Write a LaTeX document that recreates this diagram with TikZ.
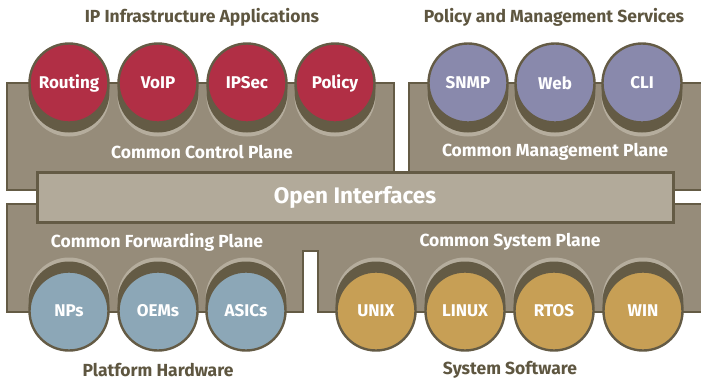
\documentclass[tikz,border=0pt]{standalone}
\usepackage{fontspec}
\setmainfont{Fira Sans}
\definecolor{plane}{HTML}{968C7A}
\definecolor{darkb}{HTML}{645B45}
\definecolor{rim}{HTML}{B5AD9D}
\definecolor{openc}{HTML}{B2AA9A}
\definecolor{redc}{HTML}{B12F45}
\definecolor{purc}{HTML}{8989AC}
\definecolor{bluc}{HTML}{8CA7B7}
\definecolor{golc}{HTML}{C79F55}
\definecolor{titlec}{HTML}{5E5640}
\tikzset{
  planebox/.style={fill=plane, draw=darkb, line width=2.2pt},
  ball/.style={circle, draw=darkb, line width=2.4pt, minimum size=79pt, inner sep=0pt,
    text=white, font=\bfseries\fontsize{17}{18}\selectfont},
  planelabel/.style={text=white, font=\bfseries\fontsize{17.5}{18}\selectfont},
  titlelabel/.style={text=titlec, font=\bfseries\fontsize{17.5}{18}\selectfont},
}
\newcommand{\topball}[4]{%
  \fill[rim] (#1,96) circle (40.5);
  \fill[darkb] (#1,92) circle (40.5);
  \node[ball, fill=#3] (#2) at (#1,83) {#4};}
\newcommand{\botball}[4]{%
  \fill[rim] (#1,298) circle (40.5);
  \fill[darkb] (#1,302) circle (40.5);
  \node[ball, fill=#3] (#2) at (#1,311) {#4};}
\begin{document}
\begin{tikzpicture}[x=1pt,y=-1pt]
\useasboundingbox (0,0) rectangle (701,381);
\begin{scope}
\clip (0,0) rectangle (701,381);
% planes
\draw[planebox] (7,83) rectangle (394,190);
\draw[planebox] (409,83) rectangle (715,190);
\draw[planebox] (7,204) -- (715,204) -- (715,312) -- (318,312) -- (318,251) -- (303,251) -- (303,312) -- (7,312) -- cycle;
\node[draw=darkb, fill=openc, line width=3pt, minimum width=636pt, minimum height=50pt, inner sep=0pt,
  text=white, font=\bfseries\fontsize{22.5}{24}\selectfont] (open) at (355,197) {Open Interfaces};
% top balls
\topball{69}{routing}{redc}{Routing}
\topball{158}{voip}{redc}{VoIP}
\topball{247}{ipsec}{redc}{IPSec}
\topball{335}{policy}{redc}{Policy}
\topball{468}{snmp}{purc}{SNMP}
\topball{555}{web}{purc}{Web}
\topball{642}{cli}{purc}{CLI}
% bottom balls
\botball{69}{nps}{bluc}{NPs}
\botball{158}{oems}{bluc}{OEMs}
\botball{246}{asics}{bluc}{ASICs}
\botball{376}{unix}{golc}{UNIX}
\botball{465}{linux}{golc}{LINUX}
\botball{554}{rtos}{golc}{RTOS}
\botball{643}{win}{golc}{WIN}
\end{scope}
% labels
\node[titlelabel] (t1) at (202,17) {IP Infrastructure Applications};
\node[titlelabel] (t2) at (554,17) {Policy and Management Services};
\node[planelabel] (ccp) at (202,152) {Common Control Plane};
\node[planelabel] (cmp) at (555,152) {Common Management Plane};
\node[planelabel] (cfp) at (157,242) {Common Forwarding Plane};
\node[planelabel] (csp) at (510,242) {Common System Plane};
\node[titlelabel] (t3) at (158,370) {Platform Hardware};
\node[titlelabel] (t4) at (510,370) {System Software};
\end{tikzpicture}
\end{document}
